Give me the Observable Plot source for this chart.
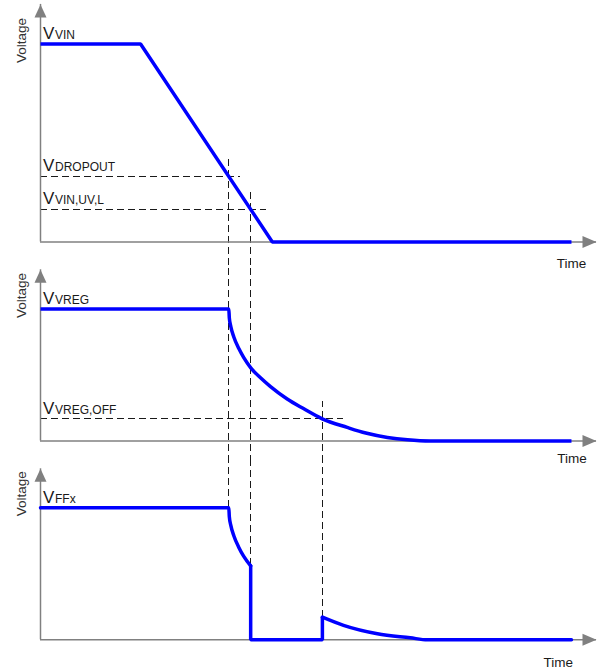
<!DOCTYPE html>
<html>
<head>
<meta charset="utf-8">
<script src="https://cdn.jsdelivr.net/npm/d3@7"></script>
<script src="https://cdn.jsdelivr.net/npm/@observablehq/plot@0.6"></script>
<style>
  body { margin: 0; background: #fff; }
  #chart { width: 598px; }
  #chart svg { display: block; overflow: visible; }
</style>
</head>
<body>
<div id="chart"></div>
<script>
// ---------------- data (time in arbitrary units 0..100, voltage in arbitrary volts) ----------------
const timeAxisEnd = 100;                 // tip of each time axis
const crossTimes = [33.9, 37.8, 50.7];   // dropout, VIN UV-low, VREG off crossings

// Panel 1 – input voltage
const vinTime = [0, 18, 41.7, 95.5];
const vinVolt = [4.95, 4.95, 0, 0];
const vinSub = ["VIN", "DROPOUT", "VIN,UV,L"];
const vinSubVolt = [4.95, 1.645, 0.82];
const vinDashVolt = [1.645, 0.82];
const vinDashEnd = [36.0, 40.6];
const vinGuideTop = [2.06, 1.31];        // where the vertical guides start in panel 1

// Panel 2 – regulator output
const vregTime = [0, 33.87, 33.96, 34.23, 34.77, 35.67, 36.56, 37.82, 39.57, 41.37, 44.37, 47.3, 50.67, 55.16, 58.5, 62.4, 66.0, 70.1, 95.5];
const vregVolt = [3.3, 3.3, 3.08, 2.86, 2.60, 2.31, 2.085, 1.83, 1.58, 1.36, 1.05, 0.81, 0.555, 0.34, 0.20, 0.09, 0.03, 0, 0];
const vregSub = ["VREG", "VREG,OFF"];
const vregSubVolt = [3.3, 0.555];
const vregDashVolt = [0.555];
const vregDashEnd = [54.5];
const vregGuideTop = [null, null, 1.0];  // null = guide crosses the whole panel

// Panel 3 – FFx output (three stretches of one trace)
const ffxTime = [0, 33.87, 33.96, 34.23, 34.77, 35.67, 36.56, 37.8,
                 37.8, 37.8, 50.7, 50.7,
                 50.7, 54.5, 60.6, 66.5, 69.6, 95.5];
const ffxVolt = [3.3, 3.3, 3.08, 2.86, 2.60, 2.31, 2.085, 1.85,
                 1.85, 0, 0, 0.565,
                 0.565, 0.36, 0.15, 0.05, 0, 0];
const ffxStretch = ["on", "on", "on", "on", "on", "on", "on", "on",
                    "off", "off", "off", "off",
                    "tail", "tail", "tail", "tail", "tail", "tail"];
const ffxSub = ["FFx"];
const ffxSubVolt = [3.3];
const ffxGuideEnd = [3.3, 1.85, 0.565];  // vertical guides stop on the trace

// ---------------- styling ----------------
const FONT = "'Liberation Sans', Arial, Helvetica, sans-serif";
const BLUE = "#0000ff";
const AXIS = "#808080";
const GUIDE = "#1a1a1a";
const TEXT = "#1a1a1a";
const PXV = 40; // pixels per volt

const upArrow = {draw(c) { c.moveTo(0, 0); c.lineTo(6, 13); c.lineTo(-6, 13); c.closePath(); }};
const rightArrow = {draw(c) { c.moveTo(0, 0); c.lineTo(-14, 6); c.lineTo(-14, -6); c.closePath(); }};

function panel(p) {
  const lo = -(p.height - p.base) / PXV, hi = p.base / PXV;
  const pts = p.time.map((t, i) => ({t, v: p.volt[i], z: p.stretch ? p.stretch[i] : "all"}));
  const labels = p.sub.map((s, i) => ({t: 0, v: p.subVolt[i], s}));
  const hd = p.dashVolt.map((v, i) => ({v, t2: p.dashEnd[i]}));
  const vd = p.guides.map(g => ({t: g.t, v1: g.v1 ?? lo, v2: g.v2 ?? hi}));
  return Plot.plot({
    width: 598, height: p.height, margin: 0,
    x: {domain: [0, timeAxisEnd], range: [40, 596], axis: null},
    y: {domain: [lo, hi], axis: null},
    style: {overflow: "visible", background: "transparent", fontFamily: FONT},
    marks: [
      Plot.ruleY(hd, {y: "v", x1: 0, x2: "t2", stroke: GUIDE, strokeWidth: 1, strokeDasharray: "7,4", shapeRendering: "crispEdges"}),
      Plot.ruleX(vd, {x: "t", y1: "v1", y2: "v2", stroke: GUIDE, strokeWidth: 1, strokeDasharray: "7,4", shapeRendering: "crispEdges"}),
      Plot.ruleX([0], {y1: 0, y2: p.axisTop, stroke: AXIS, strokeWidth: 1.5}),
      Plot.ruleY([0], {x1: 0, x2: timeAxisEnd, stroke: AXIS, strokeWidth: 1.5}),
      Plot.dot([{t: 0, v: p.axisTop}], {x: "t", y: "v", symbol: upArrow, fill: AXIS, stroke: "none"}),
      Plot.dot([{t: timeAxisEnd, v: 0}], {x: "t", y: "v", symbol: rightArrow, fill: AXIS, stroke: "none"}),
      Plot.line(pts, {x: "t", y: "v", z: "z", stroke: BLUE, strokeWidth: 3.5, curve: p.curve, strokeLinejoin: "miter", strokeLinecap: p.stretch ? "round" : "butt"}),
      Plot.text(labels, {x: "t", y: "v", text: () => "V", dx: 2.5, dy: -5, textAnchor: "start", lineAnchor: "bottom", fontSize: 17, fill: TEXT}),
      Plot.text(labels, {x: "t", y: "v", text: "s", dx: 14.5, dy: -5, textAnchor: "start", lineAnchor: "bottom", fontSize: 12, fill: TEXT}),
      Plot.text(["Time"], {x: p.timeT, y: 0, dy: p.timeDy, text: d => d, textAnchor: "middle", lineAnchor: "middle", fontSize: 13.5, fill: TEXT}),
      Plot.text(["Voltage"], {x: 0, y: p.voltY, dx: -19, rotate: -90, text: d => d, textAnchor: "middle", lineAnchor: "middle", fontSize: 13.5, fill: "#333"})
    ]
  });
}

const chart = document.getElementById("chart");

chart.append(panel({
  height: 265, base: 241.5, axisTop: 5.94, curve: "linear",
  time: vinTime, volt: vinVolt,
  sub: vinSub, subVolt: vinSubVolt,
  dashVolt: vinDashVolt, dashEnd: vinDashEnd,
  guides: [{t: crossTimes[0], v2: vinGuideTop[0]}, {t: crossTimes[1], v2: vinGuideTop[1]}],
  timeT: 95.5, timeDy: 21.5, voltY: 5.04
}));

chart.append(panel({
  height: 197, base: 175.5, axisTop: 4.28, curve: "monotone-x",
  time: vregTime, volt: vregVolt,
  sub: vregSub, subVolt: vregSubVolt,
  dashVolt: vregDashVolt, dashEnd: vregDashEnd,
  guides: crossTimes.map((t, i) => ({t, v2: vregGuideTop[i] ?? undefined})),
  timeT: 95.6, timeDy: 17.5, voltY: 3.64
}));

chart.append(panel({
  height: 207, base: 177.3, axisTop: 4.275, curve: "monotone-x",
  time: ffxTime, volt: ffxVolt, stretch: ffxStretch,
  sub: ffxSub, subVolt: ffxSubVolt,
  dashVolt: [], dashEnd: [],
  guides: crossTimes.map((t, i) => ({t, v1: ffxGuideEnd[i]})),
  timeT: 93.1, timeDy: 22.4, voltY: 3.65
}));
</script>
</body>
</html>
